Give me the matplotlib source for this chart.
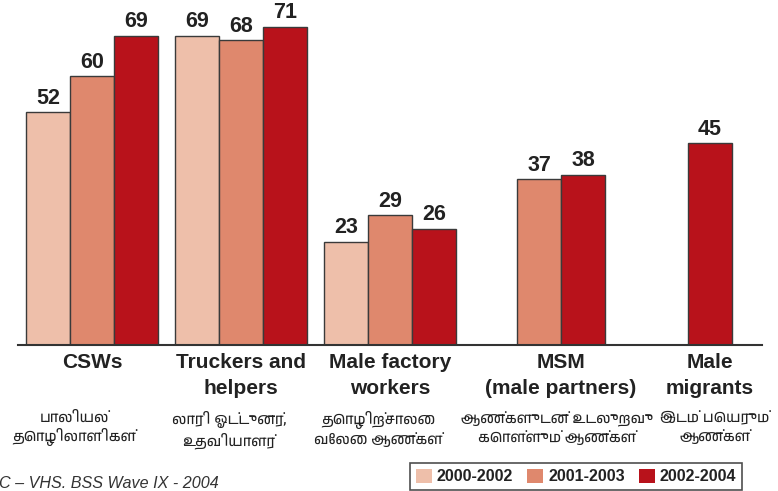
import matplotlib
matplotlib.use("Agg")
import matplotlib.pyplot as plt
import matplotlib.patches as patches
from matplotlib import font_manager

# data
groups = ["CSWs", "Truckers and\nhelpers", "Male factory\nworkers", "MSM\n(male partners)", "Male\nmigrants"]
tamil = ["பாலியல்\nதொழிலாளிகள்", "லாரி ஓட்டுனர்,\nஉதவியாளர்", "தொழிற்சாலை\nவேலை ஆண்கள்",
         "ஆண்களுடன் உடலுறவு\nகொள்ளும் ஆண்கள்", "இடம் பெயரும்\nஆண்கள்"]
periods = ["2000-2002", "2001-2003", "2002-2004"]
v_2000_2002 = [52, 69, 23, None, None]
v_2001_2003 = [60, 68, 29, 37, None]
v_2002_2004 = [69, 71, 26, 38, 45]
source = "C – VHS. BSS Wave IX - 2004"

colors = ["#EEBFAA", "#DF886D", "#B8121B"]

# look for something that can draw Tamil
tamil_fam = ["DejaVu Sans"]
for f in font_manager.fontManager.ttflist:
    if "tamil" in f.name.lower() or "lohit" in f.name.lower():
        tamil_fam = [f.name, "DejaVu Sans"]
        break

plt.rcParams["font.family"] = ["Liberation Sans", "DejaVu Sans"]

W, H = 778, 491
fig = plt.figure(figsize=(W / 100, H / 100), dpi=100)
ax = fig.add_axes([18 / W, 1 - 345 / H, 744 / W, 345 / H])
ax.set_xlim(0, 744)
ax.set_ylim(0, 77)

slots = [74, 223, 372, 521, 648]   # group slot centres (axis px)
tamil_shift = [-18, -12, -12, -4, 5]  # tamil captions sit a bit off-centre
bw = 44
offsets = [-bw, 0, bw]
series = [v_2000_2002, v_2001_2003, v_2002_2004]

label_x = [[] for _ in groups]
for k, vals in enumerate(series):
    for i, v in enumerate(vals):
        if v is None:
            continue
        x = slots[i] + offsets[k]
        ax.bar(x, v, width=bw, color=colors[k], edgecolor="#3a3a3a", linewidth=1.0, zorder=2)
        ax.annotate(str(v), (x, v), xytext=(0, 2.5), textcoords="offset points",
                    ha="center", va="bottom", fontsize=15.5, fontweight="bold", color="#222222")
        label_x[i].append(x)

for i, g in enumerate(groups):
    cx = sum(label_x[i]) / len(label_x[i])
    fx = (18 + cx) / W
    fig.text(fx, 1 - 353 / H, g, ha="center", va="top", fontsize=15, fontweight="bold",
             color="#222222", linespacing=1.45)
    fig.text(fx + tamil_shift[i] / W, 1 - 411 / H, tamil[i], ha="center", va="top", fontsize=10.5,
             style="italic", color="#222222", linespacing=1.3, family=tamil_fam)

for s in ["top", "left", "right"]:
    ax.spines[s].set_visible(False)
ax.spines["bottom"].set_color("#333333")
ax.spines["bottom"].set_linewidth(1.5)
ax.set_xticks([])
ax.set_yticks([])

handles = [patches.Patch(facecolor=c, edgecolor="none", label=p) for c, p in zip(colors, periods)]
leg = fig.legend(handles=handles, loc="center", bbox_to_anchor=(576 / W, 14.5 / H), ncol=3,
                 frameon=True, fancybox=False, prop={"weight": "bold", "size": 11.5},
                 handlelength=1.0, handleheight=1.0, handletextpad=0.3, columnspacing=0.9,
                 borderpad=0.35, borderaxespad=0)
leg.get_frame().set_edgecolor("#222222")
leg.get_frame().set_linewidth(1.2)
for t in leg.get_texts():
    t.set_color("#222222")

fig.text(-1 / W, 8 / H, source, ha="left", va="center", fontsize=11.6, style="italic", color="#333333")

fig.savefig("out.png", dpi=100)
